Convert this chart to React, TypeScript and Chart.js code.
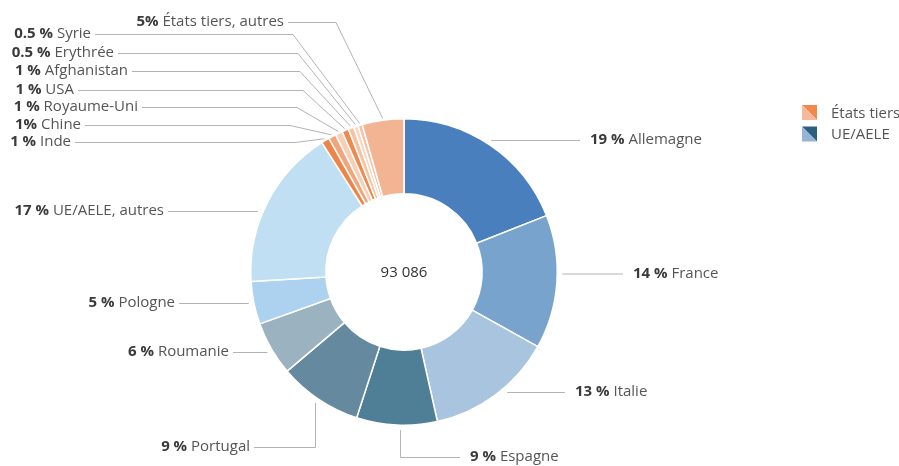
import React, { useEffect, useRef } from "react";
import { Chart, registerables } from "chart.js";

Chart.register(...registerables);

const categories = [
  "Allemagne", "France", "Italie", "Espagne", "Portugal", "Roumanie", "Pologne",
  "UE/AELE, autres", "Inde", "Chine", "Royaume-Uni", "USA", "Afghanistan",
  "Erythrée", "Syrie", "États tiers, autres",
];
const shares = [19, 14.1, 13.4, 8.5, 8.8, 5.7, 4.5, 17, 0.85, 0.8, 0.75, 0.7, 0.6, 0.45, 0.45, 4.4];
const pctLabels = ["19 %", "14 %", "13 %", "9 %", "9 %", "6 %", "5 %", "17 %", "1 %", "1%", "1 %", "1 %", "1 %", "0.5 %", "0.5 %", "5%"];
const totalLabel = "93 086";
const legendLabels = ["États tiers", "UE/AELE"];

const sliceColors = [
  "#4a7fbd", "#78a3cc", "#a9c4de", "#4e7f96", "#65899f", "#9bb3c1", "#acd2ef", "#c1dff3",
  "#ee8548", "#f3a47a", "#f8cfb6", "#ef8a4f", "#f6c2a5", "#f9d6c2", "#f6c0a2", "#f3b493",
];
const legendColors = [["#ef8a4c", "#f6b999"], ["#2c5f7e", "#93b4d4"]];

// label layout: kind h = horizontal leader, v = vertical then horizontal, d = diagonal then horizontal
type Lay = { kind: "h" | "v" | "d"; side: "l" | "r"; y: number; end: number; x?: number };
const layout: Lay[] = [
  { kind: "h", side: "r", y: 140, end: 580 },
  { kind: "h", side: "r", y: 273.5, end: 623 },
  { kind: "h", side: "r", y: 392, end: 565 },
  { kind: "v", side: "r", y: 457, end: 460, x: 400 },
  { kind: "v", side: "l", y: 447, end: 254, x: 315 },
  { kind: "h", side: "l", y: 352, end: 233 },
  { kind: "h", side: "l", y: 303, end: 179 },
  { kind: "h", side: "l", y: 211, end: 168 },
  { kind: "d", side: "l", y: 142, end: 75, x: 295 },
  { kind: "d", side: "l", y: 125, end: 85, x: 290 },
  { kind: "d", side: "l", y: 107, end: 142, x: 297 },
  { kind: "d", side: "l", y: 90, end: 78, x: 303 },
  { kind: "d", side: "l", y: 71, end: 132, x: 300 },
  { kind: "d", side: "l", y: 53, end: 118, x: 298 },
  { kind: "d", side: "l", y: 34, end: 95, x: 293 },
  { kind: "d", side: "l", y: 22, end: 288, x: 336 },
];

const FONT = "'Open Sans', 'Noto Sans', sans-serif";
const FS = 15;

const labelPlugin = {
  id: "labels",
  afterDraw(chart: any) {
    const ctx: CanvasRenderingContext2D = chart.ctx;
    const meta = chart.getDatasetMeta(0);
    ctx.save();
    ctx.strokeStyle = "#b3b3b3";
    ctx.lineWidth = 1;
    meta.data.forEach((arc: any, i: number) => {
      const p = arc.getProps(["x", "y", "startAngle", "endAngle", "outerRadius"], true);
      const cx = p.x, cy = p.y, R = p.outerRadius;
      const L = layout[i];
      const gap = 5;
      ctx.beginPath();
      if (L.kind === "h") {
        const dy = L.y - cy;
        const dx = Math.sqrt(Math.max((R + gap) ** 2 - dy * dy, 0));
        const sx = L.side === "r" ? cx + dx : cx - dx;
        ctx.moveTo(sx, L.y + 0.5);
        ctx.lineTo(L.end, L.y + 0.5);
      } else if (L.kind === "v") {
        const dx = (L.x as number) - cx;
        const dy = Math.sqrt(Math.max((R + gap) ** 2 - dx * dx, 0));
        ctx.moveTo((L.x as number) + 0.5, cy + dy);
        ctx.lineTo((L.x as number) + 0.5, L.y + 0.5);
        ctx.lineTo(L.end, L.y + 0.5);
      } else {
        const a = (p.startAngle + p.endAngle) / 2;
        const sx = cx + Math.cos(a) * (R + 2);
        const sy = cy + Math.sin(a) * (R + 2);
        ctx.moveTo(sx, sy);
        ctx.lineTo(L.x as number, L.y + 0.5);
        ctx.lineTo(L.end, L.y + 0.5);
      }
      ctx.stroke();

      // text
      const bold = pctLabels[i] + " ";
      const name = categories[i];
      ctx.textBaseline = "middle";
      ctx.textAlign = "left";
      ctx.font = `bold ${FS}px ${FONT}`;
      const wb = ctx.measureText(bold).width;
      ctx.font = `${FS}px ${FONT}`;
      const wn = ctx.measureText(name).width;
      let tx: number;
      if (L.side === "r") tx = L.end + 10;
      else tx = L.end - 4 - wb - wn;
      ctx.font = `bold ${FS}px ${FONT}`;
      ctx.fillStyle = "#3a3a3a";
      ctx.fillText(bold, tx, L.y);
      ctx.font = `${FS}px ${FONT}`;
      ctx.fillStyle = "#555555";
      ctx.fillText(name, tx + wb, L.y);

      if (i === 0) {
        ctx.font = `15px ${FONT}`;
        ctx.fillStyle = "#333333";
        ctx.textAlign = "center";
        ctx.fillText(totalLabel, cx, cy + 1);
      }
    });

    // legend
    const lx = 802, ly0 = 105, s = 15, step = 21.5;
    legendLabels.forEach((lab, k) => {
      const ly = ly0 + k * step;
      const [dark, light] = legendColors[k];
      ctx.fillStyle = dark;
      ctx.beginPath();
      ctx.moveTo(lx, ly);
      ctx.lineTo(lx + s, ly);
      ctx.lineTo(lx + s, ly + s);
      ctx.closePath();
      ctx.fill();
      ctx.fillStyle = light;
      ctx.beginPath();
      ctx.moveTo(lx, ly);
      ctx.lineTo(lx, ly + s);
      ctx.lineTo(lx + s, ly + s);
      ctx.closePath();
      ctx.fill();
      ctx.font = `${FS}px ${FONT}`;
      ctx.fillStyle = "#555555";
      ctx.textAlign = "left";
      ctx.textBaseline = "middle";
      ctx.fillText(lab, 831, ly + s / 2 + 1);
    });
    ctx.restore();
  },
};

export default function App() {
  const ref = useRef<HTMLCanvasElement | null>(null);
  useEffect(() => {
    document.body.style.margin = "0";
    if (!ref.current) return;
    const chart = new Chart(ref.current, {
      type: "doughnut",
      data: {
        labels: categories,
        datasets: [
          {
            data: shares,
            backgroundColor: sliceColors,
            borderColor: "#ffffff",
            borderWidth: 1.5,
          },
        ],
      },
      options: {
        animation: false,
        responsive: false,
        cutout: "51%",
        layout: { padding: { top: 118, bottom: 40, left: 250, right: 341 } },
        plugins: { legend: { display: false }, tooltip: { enabled: false } },
      },
      plugins: [labelPlugin],
    });
    return () => chart.destroy();
  }, []);
  return (
    <div style={{ width: 899, height: 466, background: "#fff" }}>
      <canvas ref={ref} width={899} height={466} style={{ display: "block" }} />
    </div>
  );
}
